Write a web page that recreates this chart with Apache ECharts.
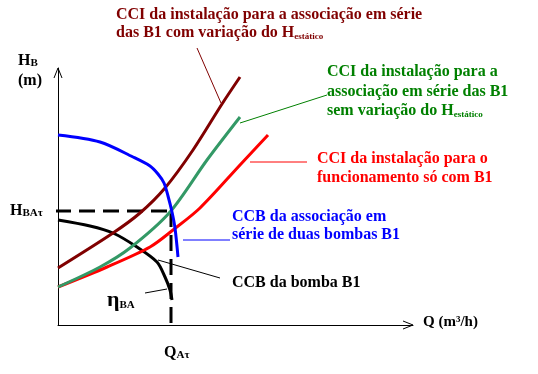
<!DOCTYPE html>
<html><head><meta charset="utf-8">
<script src="https://cdn.jsdelivr.net/npm/echarts@6/dist/echarts.min.js"></script>
<style>html,body{margin:0;padding:0;background:#fff}#c{width:538px;height:374px}</style>
</head><body><div id="c"></div>
<script>
// Flow Q (arbitrary units) and head H (arbitrary units)
const brownQ = [0, 55, 82, 107, 135, 164, 182];
const brownH = [57, 92, 112, 137, 175, 221, 248];
const greenQ = [0, 42, 72, 112, 149, 182];
const greenH = [38, 58, 77, 113, 165, 208];
const redQ = [0, 49, 92, 115, 142, 182, 210];
const redH = [38, 58, 78, 95, 117, 160, 190];
const blueQ = [0, 42, 75, 92, 100, 106, 110, 114, 117, 120];
const blueH = [190, 183, 168, 159, 151, 142, 129, 113, 97, 68];
const blackQ = [0, 32, 55, 79, 99, 107, 112, 114];
const blackH = [105, 99, 92, 78, 63, 48, 35, 25];
// operating point (Q_At, H_BAt)
const opQ = 113, opH = 114;
// leader lines [q1,h1,q2,h2]
const leadBrown = [139, 277, 163, 222];
const leadGreen = [182, 202, 269, 230];
const leadRed = [192, 163, 249, 163];
const leadBlue = [125, 85, 172, 85];
const leadBlack = [100, 65, 162, 47];
const leadEta = [87, 32, 109, 36];

const zip = (a, b) => a.map((v, i) => [v, b[i]]);
const seg = s => [[s[0], s[1]], [s[2], s[3]]];

const chart = echarts.init(document.getElementById('c'));
const FF = 'Liberation Serif';
function curve(name, q, h, color) {
  return {name, type: 'line', data: zip(q, h), smooth: 0.3, symbol: 'none', clip: false,
    lineStyle: {color, width: 3}, z: 5};
}
function lead(s, color) {
  return {type: 'line', data: seg(s), symbol: 'none', clip: false, silent: true,
    lineStyle: {color, width: 1}, z: 3};
}
function txt(x, y, text, color, extraRich, size) {
  return {type: 'text', x, y, style: {
    text, fill: color, font: 'bold ' + (size || 16) + 'px "' + FF + '"', verticalAlign: 'middle', align: 'left',
    rich: Object.assign({
      sub: {fontFamily: FF, fontWeight: 'bold', fontSize: 9, fill: color, verticalAlign: 'bottom', lineHeight: 2},
      sb: {fontFamily: FF, fontWeight: 'bold', fontSize: 11, fill: color, verticalAlign: 'bottom', lineHeight: 8}
    }, extraRich || {})
  }};
}
const option = {
  animation: false,
  grid: {left: 58, top: 68, width: 355, height: 257},
  xAxis: {type: 'value', min: 0, max: 355, axisLine: {show: true, onZero: false, lineStyle: {color: '#000', width: 1}},
    axisTick: {show: false}, axisLabel: {show: false}, splitLine: {show: false}},
  yAxis: {type: 'value', min: 0, max: 257, axisLine: {show: true, onZero: false, lineStyle: {color: '#000', width: 1}},
    axisTick: {show: false}, axisLabel: {show: false}, splitLine: {show: false}},
  series: [
    {type: 'line', data: [[-3, opH], [opQ + 1, opH]], symbol: 'none', clip: false,
      lineStyle: {color: '#000', width: 3, type: [16, 8]}, z: 2},
    {type: 'line', data: [[opQ, opH], [opQ, 0]], symbol: 'none', clip: false,
      lineStyle: {color: '#000', width: 3, type: [16, 8]}, z: 2},
    curve('black', blackQ, blackH, '#000000'),
    curve('red', redQ, redH, '#ff0000'),
    curve('green', greenQ, greenH, '#339966'),
    curve('brown', brownQ, brownH, '#800000'),
    curve('blue', blueQ, blueH, '#0000ff'),
    lead(leadBrown, '#800000'),
    lead(leadGreen, '#008000'),
    lead(leadRed, '#ff0000'),
    lead(leadBlue, '#0000ff'),
    lead(leadBlack, '#000000'),
    lead(leadEta, '#000000')
  ],
  graphic: [
    {type: 'polyline', shape: {points: [[54, 78], [58, 68], [62, 78]]}, style: {stroke: '#000', fill: null, lineWidth: 1}},
    {type: 'polyline', shape: {points: [[403, 321], [413, 325], [403, 329]]}, style: {stroke: '#000', fill: null, lineWidth: 1}},
    txt(116, 15, 'CCI da instalação para a associação em série', '#800000'),
    txt(116, 33, 'das B1 com variação do H{sub|estático}', '#800000'),
    txt(327, 72, 'CCI da instalação para a', '#008000'),
    txt(327, 92, 'associação em série das B1', '#008000'),
    txt(327, 111, 'sem variação do H{sub|estático}', '#008000'),
    txt(317, 159, 'CCI da instalação para o', '#ff0000'),
    txt(317, 178, 'funcionamento só com B1', '#ff0000'),
    txt(232, 217, 'CCB da associação em', '#0000ff'),
    txt(232, 235, 'série de duas bombas B1', '#0000ff'),
    txt(232, 283, 'CCB da bomba B1', '#000000'),
    txt(18, 61, 'H{sb|B}', '#000000'),
    txt(18, 81, '(m)', '#000000'),
    txt(10, 211, 'H{sb|BAτ}', '#000000'),
    txt(107, 300, '{eta|η}{sb|BA}', '#000000', {eta: {fontFamily: FF, fontWeight: 'bold', fontSize: 22, fill: '#000'}}),
    txt(164, 353, 'Q{sb|Aτ}', '#000000'),
    txt(423, 322, 'Q (m³/h)', '#000000', null, 15)
  ]
};
chart.setOption(option);
</script></body></html>
